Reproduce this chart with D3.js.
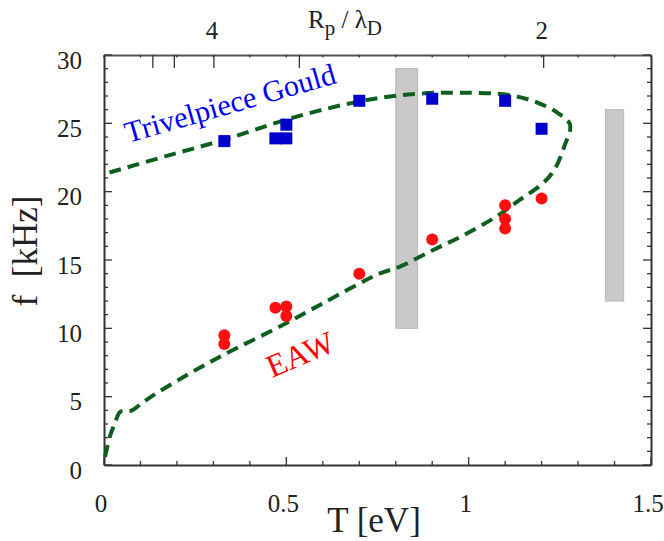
<!DOCTYPE html>
<html>
<head>
<meta charset="utf-8">
<script src="https://cdn.jsdelivr.net/npm/d3@7"></script>
<style>
  html, body { margin: 0; padding: 0; background: #fff; }
  svg { display: block; }
</style>
</head>
<body>
<svg id="chart" width="664" height="541"></svg>
<script>
// ---------- data ----------
const tgT = [0.33, 0.47, 0.50, 0.50, 0.70, 0.90, 1.10, 1.20];
const tgF = [23.7, 23.9, 23.9, 24.9, 26.65, 26.8, 26.65, 24.6];

const eawT = [0.33, 0.33, 0.47, 0.50, 0.50, 0.70, 0.90, 1.10, 1.10, 1.10, 1.20];
const eawF = [9.5, 8.85, 11.5, 11.6, 10.9, 14.0, 16.5, 19.0, 18.0, 17.3, 19.5];

// dispersion curve (upper TG branch -> turning point -> lower EAW branch)
const curveT = [0.015, 0.17, 0.33, 0.51, 0.70, 0.85, 0.98, 1.11, 1.19, 1.245, 1.278, 1.262, 1.235, 1.203, 1.14, 1.075, 0.985, 0.90, 0.81, 0.755, 0.60, 0.49, 0.327, 0.235, 0.144, 0.105, 0.075, 0.045, 0.03, 0.016, 0.003];
const curveF = [21.4, 22.6, 23.8, 25.35, 26.6, 27.15, 27.24, 27.07, 26.5, 25.75, 24.9, 23.3, 21.6, 20.6, 19.4, 18.16, 16.8, 15.7, 14.5, 14.0, 11.83, 10.24, 8.05, 6.7, 5.25, 4.55, 3.97, 3.9, 3.05, 2.07, 0.6];

// gray bands [T0, T1, f0, f1]
const bandT0 = [0.80, 1.375];
const bandT1 = [0.86, 1.425];
const bandF0 = [10, 12];
const bandF1 = [29, 26];

const xTickLabels = [0, 0.5, 1, 1.5];
const yTickLabels = [0, 5, 10, 15, 20, 25, 30];
const topTicksR = [6, 5, 4, 3, 2];
const topLabelsR = [4, 2];
const rConst = 2.196; // R_p/lambda_D = rConst / sqrt(T)

// ---------- layout ----------
const FONT = '"Liberation Serif", "Times New Roman", Times, serif';
const svg = d3.select("#chart");
const x = d3.scaleLinear().domain([0, 1.5]).range([104, 651]);
const y = d3.scaleLinear().domain([0, 30]).range([465, 55]);
const axisColor = "#333";

// gray bands
svg.append("g").selectAll("rect").data(bandT0).join("rect")
  .attr("x", (d, i) => x(d))
  .attr("y", (d, i) => y(bandF1[i]))
  .attr("width", (d, i) => x(bandT1[i]) - x(d))
  .attr("height", (d, i) => y(bandF0[i]) - y(bandF1[i]))
  .attr("fill", "#c9c9c9")
  .attr("stroke", "#b8b8b8")
  .attr("stroke-width", 1);

// axes (frame lines)
const gAx = svg.append("g");
gAx.append("g").attr("transform", `translate(0,${y(0)})`)
  .call(d3.axisBottom(x).tickValues([]).tickSize(0))
  .call(g => g.select(".domain").attr("stroke", axisColor).attr("stroke-width", 2));
gAx.append("g").attr("transform", `translate(0,${y(30)})`)
  .call(d3.axisTop(x).tickValues([]).tickSize(0))
  .call(g => g.select(".domain").attr("stroke", "#555").attr("stroke-width", 2));
gAx.append("g").attr("transform", `translate(${x(0)},0)`)
  .call(d3.axisLeft(y).tickValues([]).tickSize(0))
  .call(g => g.select(".domain").attr("stroke", axisColor).attr("stroke-width", 2));
gAx.append("g").attr("transform", `translate(${x(1.5)},0)`)
  .call(d3.axisRight(y).tickValues([]).tickSize(0))
  .call(g => g.select(".domain").attr("stroke", axisColor).attr("stroke-width", 2));

const ticks = svg.append("g").attr("stroke", axisColor).attr("stroke-width", 1.3);
// bottom ticks (+ small mirrored ticks on top)
d3.range(0, 16).forEach(i => {
  const t = i / 10, major = i % 5 === 0, len = major ? 8 : 4;
  ticks.append("line").attr("x1", x(t)).attr("x2", x(t)).attr("y1", y(0)).attr("y2", y(0) - len);
  ticks.append("line").attr("x1", x(t)).attr("x2", x(t)).attr("y1", y(30)).attr("y2", y(30) + 2.5);
});
// left & right ticks
d3.range(0, 31).forEach(f => {
  const major = f % 5 === 0, len = major ? 8 : 4;
  ticks.append("line").attr("x1", x(0)).attr("x2", x(0) + len).attr("y1", y(f)).attr("y2", y(f));
  ticks.append("line").attr("x1", x(1.5)).attr("x2", x(1.5) - len).attr("y1", y(f)).attr("y2", y(f));
});
// top R ticks
const rToT = r => (rConst / r) ** 2;
topTicksR.forEach(r => {
  ticks.append("line").attr("x1", x(rToT(r))).attr("x2", x(rToT(r))).attr("y1", y(30)).attr("y2", y(30) + 13);
});

// tick labels
const tl = svg.append("g").style("font-family", FONT).style("font-size", "25px").style("fill", "#222");
xTickLabels.forEach(t => {
  tl.append("text").style("font-family", FONT).attr("x", x(t) - 3).attr("y", 512).attr("text-anchor", "middle").text(t);
});
yTickLabels.forEach(f => {
  tl.append("text").style("font-family", FONT).attr("x", 82).attr("y", y(f) + 13.5).attr("text-anchor", "end").text(f);
});
topLabelsR.forEach(r => {
  tl.append("text").style("font-family", FONT).attr("x", x(rToT(r)) - 2).attr("y", 39).attr("text-anchor", "middle").text(r);
});

// axis titles
svg.append("text").attr("x", 374).attr("y", 532).attr("text-anchor", "middle")
  .style("font-family", FONT).style("fill", "#222")
  .style("font-size", "35px").text("T [eV]");
svg.append("text").attr("transform", "translate(37,251) rotate(-90)").attr("text-anchor", "middle")
  .style("font-family", FONT).style("fill", "#222")
  .style("font-size", "35px").style("white-space", "pre").text("f  [kHz]");
const topTitle = svg.append("text").attr("x", 308).attr("y", 28)
  .style("font-family", FONT).style("fill", "#222").style("font-size", "25px");
topTitle.append("tspan").text("R");
topTitle.append("tspan").attr("dy", 7).style("font-size", "21px").text("p");
topTitle.append("tspan").attr("dy", -7).style("white-space", "pre").text(" / λ");
topTitle.append("tspan").attr("dy", 7).style("font-size", "21px").text("D");

// dispersion curve
const line = d3.line().x(d => x(d[0])).y(d => y(d[1])).curve(d3.curveCatmullRom.alpha(0.5));
svg.append("path").datum(curveT.map((t, i) => [t, curveF[i]]))
  .attr("d", line)
  .attr("fill", "none")
  .attr("stroke", "#0e5f1e")
  .attr("stroke-width", 4)
  .attr("stroke-dasharray", "12 7");

// TG squares
const sq = 12;
svg.append("g").selectAll("rect").data(tgT).join("rect")
  .attr("x", d => x(d) - sq / 2)
  .attr("y", (d, i) => y(tgF[i]) - sq / 2)
  .attr("width", sq).attr("height", sq)
  .attr("fill", "#0000cc");

// EAW circles
svg.append("g").selectAll("circle").data(eawT).join("circle")
  .attr("cx", d => x(d))
  .attr("cy", (d, i) => y(eawF[i]))
  .attr("r", 6)
  .attr("fill", "#ff0f0f");

// annotations
svg.append("text").attr("transform", "translate(128,143) rotate(-16)")
  .style("font-family", FONT)
  .style("font-size", "30px").style("fill", "#0000ee").text("Trivelpiece Gould");
svg.append("text").attr("transform", "translate(272,378) rotate(-23)")
  .style("font-family", FONT)
  .style("font-size", "32px").style("fill", "#ff0000").text("EAW");
</script>
</body>
</html>
